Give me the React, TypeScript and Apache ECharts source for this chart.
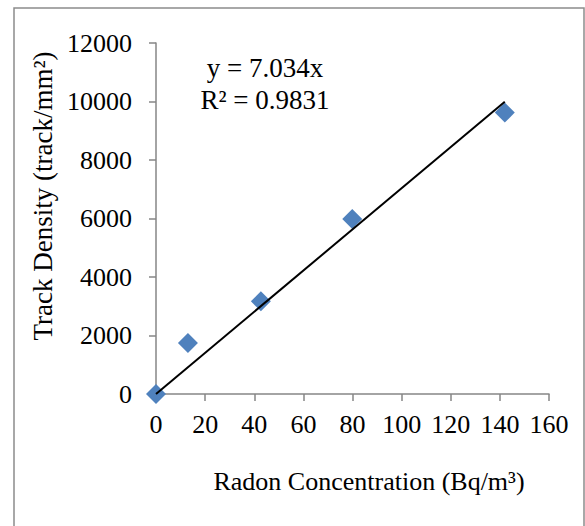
import React, { useEffect, useRef } from "react";
import * as echarts from "echarts";

const radonX = [0, 13, 42.7, 79.9, 142];
const trackY = [0, 1745, 3170, 5980, 9620];
const trendX = [0, 142];
const trendY = [0, 9990];
const eqLine1 = "y = 7.034x";
const eqLine2 = "R² = 0.9831";
const xTitle = "Radon Concentration (Bq/m³)";
const yTitle = "Track Density (track/mm²)";

const FONT = "'Liberation Serif', 'Times New Roman', serif";

export default function App() {
  const ref = useRef<HTMLDivElement>(null);
  useEffect(() => {
    const chart = echarts.init(ref.current!, null, { renderer: "svg" });
    chart.setOption({
      animation: false,
      backgroundColor: "#ffffff",
      grid: { left: 156, right: 36, top: 43, bottom: 132, containLabel: false },
      xAxis: {
        type: "value",
        min: 0,
        max: 160,
        interval: 20,
        axisLine: { show: true, lineStyle: { color: "#868686", width: 1.5 } },
        axisTick: { show: true, inside: false, length: 7, lineStyle: { color: "#868686", width: 1.5 } },
        splitLine: { show: false },
        axisLabel: {
          color: "#000",
          fontFamily: FONT,
          fontSize: 26,
          margin: 17,
          formatter: (v: number) => String(v),
        },
      },
      yAxis: {
        type: "value",
        min: 0,
        max: 12000,
        interval: 2000,
        axisLine: { show: true, lineStyle: { color: "#868686", width: 1.5 } },
        axisTick: { show: true, inside: false, length: 7, lineStyle: { color: "#868686", width: 1.5 } },
        splitLine: { show: false },
        axisLabel: {
          color: "#000",
          fontFamily: FONT,
          fontSize: 26,
          margin: 24,
          formatter: (v: number) => String(v),
        },
      },
      series: [
        {
          type: "line",
          data: trendX.map((x, i) => [x, trendY[i]]),
          showSymbol: false,
          symbol: "none",
          lineStyle: { color: "#000", width: 2 },
          z: 3,
        },
        {
          type: "scatter",
          data: radonX.map((x, i) => [x, trackY[i]]),
          symbol: "diamond",
          symbolSize: 20,
          itemStyle: { color: "#4F81BD", opacity: 1 },
          z: 2,
        },
      ],
      graphic: [
        {
          type: "rect",
          shape: { x: 14, y: 8, width: 570, height: 540 },
          style: { fill: "none", stroke: "#8c8c8c", lineWidth: 1.5 },
          silent: true,
        },
        {
          type: "text",
          x: 265,
          y: 68,
          style: { text: eqLine1, fontFamily: FONT, fontSize: 27, fill: "#000", align: "center", verticalAlign: "middle" },
        },
        {
          type: "text",
          x: 265,
          y: 100,
          style: { text: eqLine2, fontFamily: FONT, fontSize: 27, fill: "#000", align: "center", verticalAlign: "middle" },
        },
        {
          type: "text",
          x: 369,
          y: 481,
          style: { text: xTitle, fontFamily: FONT, fontSize: 26, fill: "#000", align: "center", verticalAlign: "middle" },
        },
        {
          type: "text",
          x: 43,
          y: 196,
          rotation: Math.PI / 2,
          style: { text: yTitle, fontFamily: FONT, fontSize: 27, fill: "#000", align: "center", verticalAlign: "middle" },
        },
      ],
    });
    return () => chart.dispose();
  }, []);
  return (
    <div
      ref={ref}
      style={{ position: "fixed", left: 0, top: 0, width: 585, height: 526 }}
    />
  );
}
